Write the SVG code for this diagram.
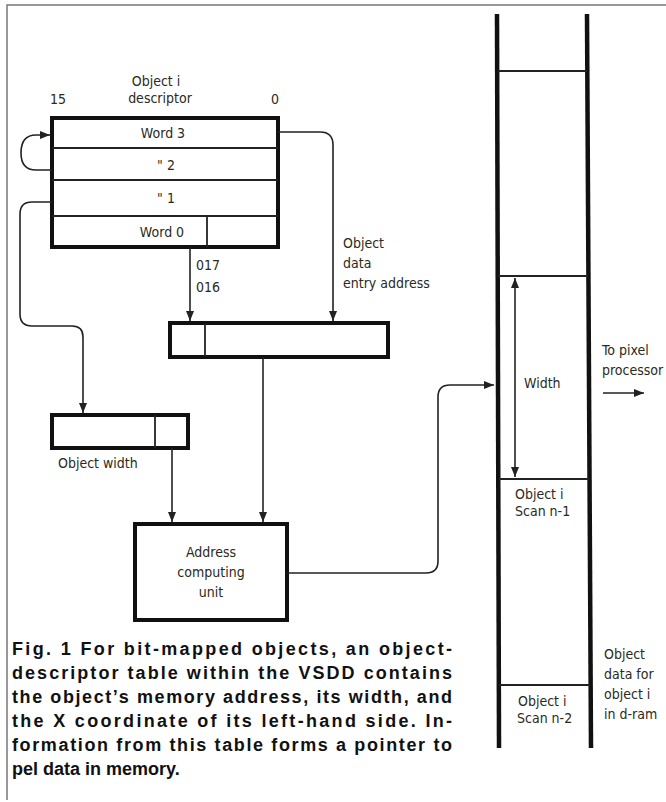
<svg xmlns="http://www.w3.org/2000/svg" width="666" height="802" viewBox="0 0 666 802">
<style>
.lbl{font-family:"DejaVu Sans Condensed","Liberation Sans Narrow","Liberation Sans",sans-serif;font-size:14px;fill:#2a2a22}
.cap{font-family:"Liberation Sans","Arial",sans-serif;font-size:18px;font-weight:bold;fill:#111}
.thick{fill:#fff;stroke:#111;stroke-width:4}
.thin{stroke:#222;stroke-width:1.8;fill:none}
.conn{stroke:#222;stroke-width:1.6;fill:none}
</style>
<defs>
<marker id="ah" viewBox="0 0 10 10" refX="10" refY="5" markerWidth="10" markerHeight="10" markerUnits="userSpaceOnUse" orient="auto-start-reverse">
<path d="M0,1 L10,5 L0,9 Z" fill="#222"/>
</marker>
</defs>
<rect width="666" height="802" fill="#fff"/>
<g id="frame">
<path d="M666,5 H7 V800" stroke="#777" stroke-width="1.5" fill="none"/>
</g>
<g id="descriptor">
<text class="lbl" x="156" y="86" text-anchor="middle">Object i</text>
<text class="lbl" x="160" y="103" text-anchor="middle">descriptor</text>
<text class="lbl" x="50" y="104">15</text>
<text class="lbl" x="271" y="104">0</text>
<rect class="thick" x="52" y="118" width="226" height="129"/>
<line class="thin" x1="52" y1="148" x2="278" y2="148"/>
<line class="thin" x1="52" y1="180" x2="278" y2="180"/>
<line class="thin" x1="52" y1="216" x2="278" y2="216"/>
<line class="thin" x1="207" y1="216" x2="207" y2="247"/>
<text class="lbl" x="163" y="138" text-anchor="middle">Word 3</text>
<text class="lbl" x="166" y="170" text-anchor="middle">" 2</text>
<text class="lbl" x="166" y="203" text-anchor="middle">" 1</text>
<text class="lbl" x="162" y="237" text-anchor="middle">Word 0</text>
</g>
<g id="pointer">
<rect class="thick" x="170" y="323" width="218" height="34"/>
<line class="thin" x1="205" y1="323" x2="205" y2="357"/>
</g>
<g id="objwidth">
<rect class="thick" x="52" y="415" width="136" height="33"/>
<line class="thin" x1="155" y1="415" x2="155" y2="448"/>
<text class="lbl" x="58" y="468">Object width</text>
</g>
<g id="acu">
<rect class="thick" x="135" y="524" width="152" height="96"/>
<text class="lbl" x="211" y="557" text-anchor="middle">Address</text>
<text class="lbl" x="211" y="577" text-anchor="middle">computing</text>
<text class="lbl" x="211" y="597" text-anchor="middle">unit</text>
</g>
<g id="memory">
<line x1="497" y1="14" x2="499" y2="748" stroke="#111" stroke-width="4.5"/>
<line x1="587" y1="14" x2="591" y2="748" stroke="#111" stroke-width="4.5"/>
<line class="thin" x1="498" y1="71" x2="587" y2="71"/>
<line class="thin" x1="498" y1="276" x2="588" y2="276"/>
<line class="thin" x1="499" y1="479" x2="589" y2="479"/>
<line class="thin" x1="499" y1="685" x2="590" y2="685"/>
<text class="lbl" x="524" y="388">Width</text>
<text class="lbl" x="515" y="499">Object i</text>
<text class="lbl" x="515" y="516">Scan n-1</text>
<text class="lbl" x="518" y="706">Object i</text>
<text class="lbl" x="517" y="723">Scan n-2</text>
<text class="lbl" x="604" y="659">Object</text>
<text class="lbl" x="604" y="679">data for</text>
<text class="lbl" x="604" y="699">object i</text>
<text class="lbl" x="604" y="719">in d-ram</text>
<text class="lbl" x="602" y="355">To pixel</text>
<text class="lbl" x="602" y="375">processor</text>
</g>
<g id="connectors">
<path class="conn" d="M52,170 H36 Q21,170 21,153 Q21,135 36,135 H50" marker-end="url(#ah)"/>
<path class="conn" d="M52,202 H32 Q20,202 20,214 V314 Q20,326 32,326 H72 Q83,326 83,337 V413" marker-end="url(#ah)"/>
<path class="conn" d="M278,132 H320 Q333,132 333,145 V321" marker-end="url(#ah)"/>
<path class="conn" d="M190,247 V321" marker-end="url(#ah)"/>
<text class="lbl" x="196" y="270">017</text>
<text class="lbl" x="196" y="292">016</text>
<text class="lbl" x="343" y="248">Object</text>
<text class="lbl" x="343" y="268">data</text>
<text class="lbl" x="343" y="288">entry address</text>
<path class="conn" d="M263,357 V522" marker-end="url(#ah)"/>
<path class="conn" d="M172,448 V522" marker-end="url(#ah)"/>
<path class="conn" d="M287,573 H426 Q438,573 438,561 V397 Q438,385 450,385 H494" marker-end="url(#ah)"/>
<path class="conn" d="M515,278 V477" marker-start="url(#ah)" marker-end="url(#ah)"/>
<path class="conn" d="M603,393 H644" stroke-width="2.2" marker-end="url(#ah)"/>
</g>
<g id="caption">
<text class="cap" x="12" y="655" textLength="440" lengthAdjust="spacing">Fig. 1 For bit-mapped objects, an object-</text>
<text class="cap" x="12" y="679" textLength="440" lengthAdjust="spacing">descriptor table within the VSDD contains</text>
<text class="cap" x="12" y="703" textLength="440" lengthAdjust="spacing">the object’s memory address, its width, and</text>
<text class="cap" x="12" y="727" textLength="440" lengthAdjust="spacing">the X coordinate of its left-hand side. In-</text>
<text class="cap" x="12" y="751" textLength="440" lengthAdjust="spacing">formation from this table forms a pointer to</text>
<text class="cap" x="12" y="775">pel data in memory.</text>
</g>
</svg>
